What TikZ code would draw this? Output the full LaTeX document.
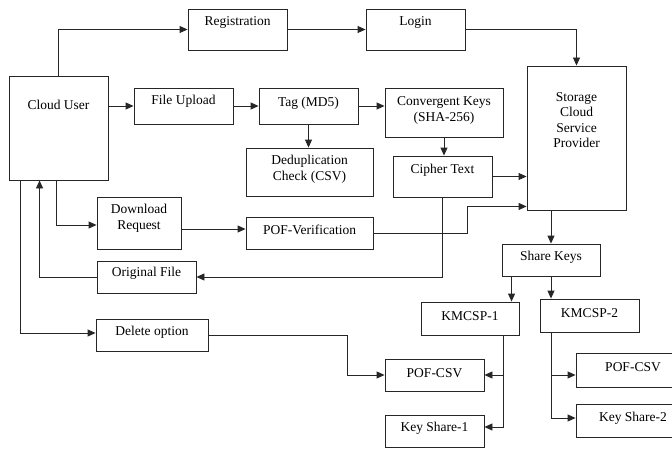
\documentclass[tikz,border=0pt]{standalone}
\usepackage{fontspec}
\setmainfont{Liberation Serif}
\usetikzlibrary{arrows.meta,calc}
\tikzset{
  box/.style={draw=black!85, line width=0.9pt, inner sep=0pt, fill=white},
  txt/.style={inner sep=0pt, align=center, font=\fontsize{13.5}{15.5}\selectfont},
  arr/.style={draw=black!85, line width=0.9pt, -{Triangle[length=8pt,width=7pt]}},
}
% \bx{name}{x1}{y1}{x2}{y2}{text raise}{text}
\newcommand\bx[7]{%
  \node[box, minimum width={(#4-#2)*1pt}, minimum height={(#5-#3)*1pt}] (#1) at ({(#2+#4)/2},{(#3+#5)/2}) {};
  \node[txt] (#1-t) at ({(#2+#4)/2},{(#3+#5)/2-#6}) {#7};
}
\begin{document}
\begin{tikzpicture}[x=1pt,y=-1pt]
\clip (0,0) rectangle (672,452);
\fill[white] (0,0) rectangle (672,452);
\bx{reg}{188}{9}{287}{50}{7}{Registration}
\bx{login}{366}{9}{465}{50}{7}{Login}
\bx{cu}{9}{76}{108}{180}{23}{Cloud User}
\bx{fu}{134}{88}{233}{124}{5}{File Upload}
\bx{tag}{259}{88}{358}{124}{3}{Tag (MD5)}
\bx{ck}{385}{88}{503}{137}{2}{Convergent Keys\\(SHA-256)}
\bx{scsp}{527}{66}{626}{210}{18}{Storage\\Cloud\\Service\\Provider}
\bx{dedup}{246}{148}{373}{196}{2.5}{Deduplication\\Check (CSV)}
\bx{cipher}{393}{156}{492}{197}{6.5}{Cipher Text}
\bx{dr}{97}{197}{181}{249}{4.5}{Download\\Request}
\bx{pofv}{246}{217}{373}{249}{3}{POF-Verification}
\bx{of}{97}{261}{196}{293}{4}{Original File}
\bx{sk}{502}{244}{600}{276}{3}{Share Keys}
\bx{del}{96}{319}{208}{351}{3}{Delete option}
\bx{km1}{421}{302}{519}{335}{2}{KMCSP-1}
\bx{km2}{540}{299}{639}{332}{2.5}{KMCSP-2}
\bx{pc1}{385}{359}{484}{391}{2}{POF-CSV}
\bx{ks1}{385}{415}{484}{447}{3}{Key Share-1}
\bx{pc2}{576}{353}{690}{387}{3}{POF-CSV}
\bx{ks2}{576}{404}{690}{437}{2.5}{Key Share-2}
\coordinate (pvbend) at (467,0);
\coordinate (delbend) at (347,0);
% connectors
\draw[arr] ([xshift=50pt]cu.north west) |- (reg.west);
\draw[arr] (reg.east) -- (login.west);
\draw[arr] (login.east) -| (scsp.north);
\draw[arr] (cu.east |- fu.west) -- (fu.west);
\draw[arr] (fu.east) -- (tag.west);
\draw[arr] (tag.east) -- (tag.east -| ck.west);
\draw[arr] (tag.south) -- (tag.south |- dedup.north);
\draw[arr] (ck.south) -- (ck.south |- cipher.north);
\draw[arr] (cipher.east) -- (cipher.east -| scsp.west);
\draw[arr] (pofv.east) -- (pvbend |- pofv.east) |- ([yshift=4pt]scsp.south west);
\draw[arr] (cipher.south) |- (of.east);
\draw[arr] (of.west) -| ([xshift=31pt]cu.south west);
\draw[arr] ([xshift=48pt]cu.south west) |- ([yshift=-2pt]dr.west);
\draw[arr] ([yshift=-6pt]dr.east) -- ([yshift=-6pt]dr.east -| pofv.west);
\draw[arr] (sk.north |- scsp.south) -- (sk.north);
\draw[arr] ([xshift=10pt]sk.south west) -- ([xshift=10pt]sk.south west |- km1.north);
\draw[arr] (sk.south) -- (sk.south |- km2.north);
\draw[arr] ([xshift=12pt]cu.south west) |- ([yshift=2pt]del.west);
\draw[arr] (del.east) -- (delbend |- del.east) |- (pc1.west);
\draw[arr] ([xshift=-16pt]km1.south east) |- ([yshift=4pt]ks1.east);
\draw[arr] ([xshift=-16pt]km1.south east |- pc1.east) -- (pc1.east);
\draw[arr] ([xshift=12pt]km2.south west) |- ([yshift=2.5pt]ks2.west);
\draw[arr] ([xshift=12pt,yshift=-5pt]km2.south west |- pc2.west) -- ([yshift=-5pt]pc2.west);
\end{tikzpicture}
\end{document}
